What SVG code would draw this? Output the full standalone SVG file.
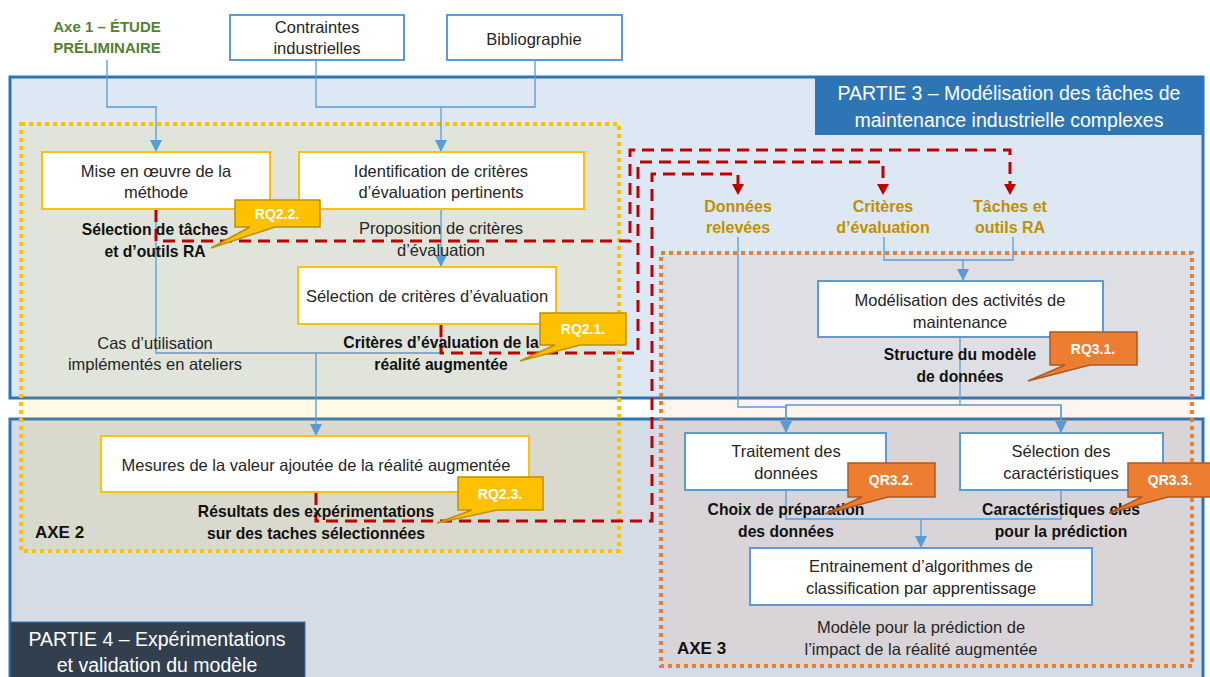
<svg xmlns="http://www.w3.org/2000/svg" width="1210" height="677" viewBox="0 0 1210 677">
<defs>
<style>
text{font-family:"Liberation Sans",Arial,sans-serif;font-size:16.5px;fill:#262626;text-anchor:middle}
.b{font-weight:bold;fill:#111;font-size:15.7px}
.g{font-weight:bold;fill:#548235;font-size:15px}
.o{font-weight:bold;fill:#bf9000;font-size:16px}
.w{fill:#fff;font-size:19.5px}
.cw{fill:#fff;font-weight:bold;font-size:14px}
.ax{font-weight:bold;fill:#111;font-size:17px;text-anchor:start}
.nb{fill:#fff;stroke:#5b9bd5;stroke-width:2}
.ny{fill:#fff;stroke:#ffc000;stroke-width:2}
.bl{fill:none;stroke:#5b9bd5;stroke-width:1.3}
.rd{fill:none;stroke:#c00000;stroke-width:3;stroke-dasharray:12 7}
.cy{fill:#ffc000;stroke:#bf9000;stroke-width:1.5}
.co{fill:#ed7d31;stroke:#ae5a21;stroke-width:1.5}
</style>
<marker id="ab" viewBox="0 0 10 10" refX="10" refY="5" markerWidth="12" markerHeight="12" markerUnits="userSpaceOnUse" orient="auto"><path d="M0,0 L10,5 L0,10 z" fill="#5b9bd5"/></marker>
</defs>
<rect width="1210" height="677" fill="#fff"/>
<!-- Parties -->
<g id="partie3">
<rect x="10" y="77" width="1193" height="321" fill="#dde8f4" stroke="#2e75b6" stroke-width="3"/>
</g>
<g id="partie4">
<rect x="10" y="419" width="1193" height="262" fill="#d6dce5" stroke="#2e75b6" stroke-width="3"/>
</g>
<g id="axe2">
<rect x="21" y="124" width="598" height="427" fill="#ffc000" fill-opacity="0.1" stroke="#ffc000" stroke-width="4" stroke-dasharray="4 4"/>
<text class="ax" x="35" y="538">AXE 2</text>
</g>
<g id="axe3">
<rect x="661" y="253" width="531" height="413" fill="#ed7d31" fill-opacity="0.08" stroke="#ed7d31" stroke-width="4" stroke-dasharray="4 4"/>
<text class="ax" x="677" y="654">AXE 3</text>
</g>
<g id="label-partie3">
<rect x="815" y="77" width="388" height="58" fill="#2e75b6"/>
<text class="w" x="1009" y="100">PARTIE 3 – Modélisation des tâches de</text>
<text class="w" x="1009" y="127">maintenance industrielle complexes</text>
</g>
<g id="label-partie4">
<rect x="10" y="622" width="295" height="60" fill="#323f4f" stroke="#2e75b6" stroke-width="1"/>
<text class="w" x="157" y="646">PARTIE 4 – Expérimentations</text>
<text class="w" x="157" y="672">et validation du modèle</text>
</g>
<!-- Connectors -->
<g id="connectors">
<path class="bl" d="M107,60 V107 H156 V152" marker-end="url(#ab)"/>
<path class="bl" d="M316,60 V107 H535 V60"/>
<path class="bl" d="M441,107 V152" marker-end="url(#ab)"/>
<path class="bl" d="M441,209 V267" marker-end="url(#ab)"/>
<path class="bl" d="M156,209 V353 H441 V324"/>
<path class="bl" d="M316,353 V436" marker-end="url(#ab)"/>
<path class="bl" d="M884,237 V260 H1013 V237"/>
<path class="bl" d="M963,260 V281" marker-end="url(#ab)"/>
<path class="bl" d="M738,237 V407 H786"/>
<path class="bl" d="M960,337 V405"/>
<path class="bl" d="M786,433 V405 H1061 V433"/>
<path class="bl" d="M786,405 V433" marker-end="url(#ab)"/>
<path class="bl" d="M1061,405 V433" marker-end="url(#ab)"/>
<path class="bl" d="M786,490 V519 H1061 V490"/>
<path class="bl" d="M921,519 V548" marker-end="url(#ab)"/>
<path class="rd" d="M156,210 V241 H630 V150 H1010 V184"/>
<path class="rd" d="M441,325 V353 H638 V162 H883 V184"/>
<path class="rd" d="M316,493 V521 H652 V174 H738 V184"/>
<path d="M1004,184 L1016,184 L1010,195 z M877,184 L889,184 L883,195 z M732,184 L744,184 L738,195 z" fill="#c00000"/>
</g>
<!-- Nodes -->
<g id="axe1">
<text class="g" x="107" y="32">Axe 1 – ÉTUDE</text>
<text class="g" x="107" y="53">PRÉLIMINAIRE</text>
</g>
<g id="contraintes">
<rect class="nb" x="230" y="15" width="174" height="45"/>
<text x="317" y="33">Contraintes</text>
<text x="317" y="54">industrielles</text>
</g>
<g id="bibliographie">
<rect class="nb" x="447" y="15" width="175" height="45"/>
<text x="534" y="45">Bibliographie</text>
</g>
<g id="mise-en-oeuvre">
<rect class="ny" x="42" y="152" width="228" height="57"/>
<text x="156" y="177">Mise en œuvre de la</text>
<text x="156" y="198">méthode</text>
</g>
<g id="identification">
<rect class="ny" x="299" y="152" width="285" height="57"/>
<text x="441" y="177">Identification de critères</text>
<text x="441" y="198">d’évaluation pertinents</text>
</g>
<g id="selection-taches">
<text class="b" x="155" y="235">Sélection de tâches</text>
<text class="b" x="155" y="257">et d’outils RA</text>
</g>
<g id="proposition">
<text x="441" y="234">Proposition de critères</text>
<text x="441" y="256">d’évaluation</text>
</g>
<g id="selection-criteres">
<rect class="ny" x="298" y="267" width="258" height="57"/>
<text x="427" y="302">Sélection de critères d’évaluation</text>
</g>
<g id="cas-utilisation">
<text x="155" y="349">Cas d’utilisation</text>
<text x="155" y="370">implémentés en ateliers</text>
</g>
<g id="criteres-ra">
<text class="b" x="441" y="348">Critères d’évaluation de la</text>
<text class="b" x="441" y="370">réalité augmentée</text>
</g>
<g id="mesures">
<rect class="ny" x="101" y="436" width="428" height="56"/>
<text x="316" y="471">Mesures de la valeur ajoutée de la réalité augmentée</text>
</g>
<g id="resultats">
<text class="b" x="316" y="517">Résultats des expérimentations</text>
<text class="b" x="316" y="539">sur des taches sélectionnées</text>
</g>
<g id="donnees-relevees">
<text class="o" x="738" y="212">Données</text>
<text class="o" x="738" y="233">relevées</text>
</g>
<g id="criteres-evaluation">
<text class="o" x="883" y="212">Critères</text>
<text class="o" x="883" y="233">d’évaluation</text>
</g>
<g id="taches-outils">
<text class="o" x="1010" y="212">Tâches et</text>
<text class="o" x="1010" y="233">outils RA</text>
</g>
<g id="modelisation">
<rect class="nb" x="818" y="281" width="285" height="56"/>
<text x="960" y="306">Modélisation des activités de</text>
<text x="960" y="328">maintenance</text>
</g>
<g id="structure">
<text class="b" x="960" y="360">Structure du modèle</text>
<text class="b" x="960" y="382">de données</text>
</g>
<g id="traitement">
<rect class="nb" x="685" y="433" width="201" height="57"/>
<text x="786" y="457">Traitement des</text>
<text x="786" y="479">données</text>
</g>
<g id="selection-caracteristiques">
<rect class="nb" x="960" y="433" width="203" height="57"/>
<text x="1061" y="457">Sélection des</text>
<text x="1061" y="479">caractéristiques</text>
</g>
<g id="choix-preparation">
<text class="b" x="786" y="515">Choix de préparation</text>
<text class="b" x="786" y="537">des données</text>
</g>
<g id="caracteristiques-cles">
<text class="b" x="1061" y="515">Caractéristiques clés</text>
<text class="b" x="1061" y="537">pour la prédiction</text>
</g>
<g id="entrainement">
<rect class="nb" x="750" y="548" width="342" height="57"/>
<text x="921" y="572">Entrainement d’algorithmes de</text>
<text x="921" y="594">classification par apprentissage</text>
</g>
<g id="modele">
<text x="921" y="633">Modèle pour la prédiction de</text>
<text x="921" y="655">l’impact de la réalité augmentée</text>
</g>
<!-- Callouts -->
<g id="rq22">
<path class="cy" d="M235,200 H320 V227 H275 L211,248 L250,227 H235 Z"/>
<text class="cw" x="277" y="219">RQ2.2.</text>
</g>
<g id="rq21">
<path class="cy" d="M540,313 H626 V345 H580 L520,361 L555,345 H540 Z"/>
<text class="cw" x="583" y="334">RQ2.1.</text>
</g>
<g id="rq23">
<path class="cy" d="M458,477 H543 V510 H497 L437,523 L472,510 H458 Z"/>
<text class="cw" x="500" y="499">RQ2.3.</text>
</g>
<g id="rq31">
<path class="co" d="M1050,332 H1137 V365 H1090 L1028,381 L1065,365 H1050 Z"/>
<text class="cw" x="1093" y="354">RQ3.1.</text>
</g>
<g id="qr32">
<path class="co" d="M848,463 H935 V497 H888 L825,514 L862,497 H848 Z"/>
<text class="cw" x="891" y="485">QR3.2.</text>
</g>
<g id="qr33">
<path class="co" d="M1128,463 H1212 V497 H1168 L1109,513 L1142,497 H1128 Z"/>
<text class="cw" x="1170" y="485">QR3.3.</text>
</g>
</svg>
